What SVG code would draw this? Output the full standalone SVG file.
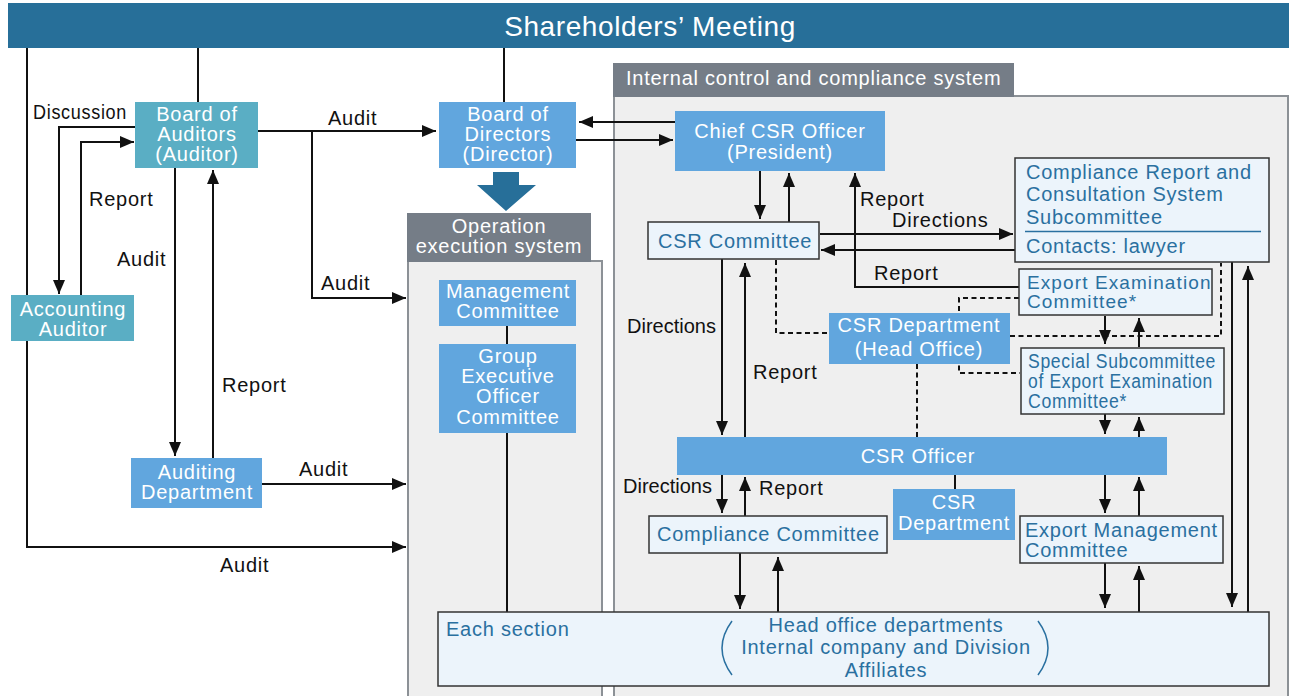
<svg xmlns="http://www.w3.org/2000/svg" width="1289" height="696" viewBox="0 0 1289 696">
<style>
text{font-family:"Liberation Sans",Arial,Helvetica,sans-serif;font-size:20px;letter-spacing:0.75px}
.lbl{fill:#111}
.wt{fill:#fff;text-anchor:middle}
.hd{fill:#fff}
.lt{fill:#2a70a0}
.teal{fill:#5aaec4}
.blue{fill:#61a6de}
.light{fill:#ecf4fb;stroke:#333;stroke-width:1.5}
.panel{fill:#efefef;stroke:#8c9196;stroke-width:2}
.tab{fill:#757d87}
.ln{fill:none;stroke:#111;stroke-width:2}
.arr{fill:none;stroke:#111;stroke-width:2;marker-end:url(#ah)}
.dash{fill:none;stroke:#111;stroke-width:2;stroke-dasharray:5 3.5}
.paren{fill:none;stroke:#2a70a0;stroke-width:1.5}
</style>
<defs>
<marker id="ah" viewBox="0 0 14 12" refX="14" refY="6" markerWidth="14" markerHeight="12" orient="auto" markerUnits="userSpaceOnUse">
<path d="M0,0 L14,6 L0,12 z" fill="#111"/>
</marker>
</defs>
<rect width="1289" height="696" fill="#fff"/>

<g id="banner">
<rect x="8" y="3" width="1281" height="45" fill="#276f99"/>
<text x="650" y="36" style="font-size:28px;letter-spacing:0.6px" fill="#fff" text-anchor="middle">Shareholders’ Meeting</text>
</g>

<g id="operation-panel">
<rect class="panel" x="408" y="261" width="194" height="445"/>
<rect class="tab" x="407" y="213" width="184" height="49"/>
<text class="wt" x="499" y="233">Operation</text>
<text class="wt" x="499" y="253">execution system</text>
</g>

<g id="internal-panel">
<rect class="panel" x="614" y="96" width="674" height="610"/>
<rect class="tab" x="613" y="63" width="401" height="34"/>
<text class="hd" x="626" y="85">Internal control and compliance system</text>
</g>

<g id="connectors">
<path class="ln" d="M198,48 V102"/>
<path class="ln" d="M504,48 V102"/>
<path class="arr" d="M27,48 V547 H406"/>
<path class="arr" d="M135,127 H59 V294"/>
<path class="arr" d="M81,295 V142 H134"/>
<path class="arr" d="M175,167 V456"/>
<path class="arr" d="M213,458 V170"/>
<path class="arr" d="M258,131 H436"/>
<path class="arr" d="M312,131 V298 H406"/>
<path class="arr" d="M262,484 H406"/>
<path class="arr" d="M675,122 H579"/>
<path class="arr" d="M576,140 H673"/>
<path d="M493,172 H519 V185 H536 L506,211 L477,185 H493 Z" fill="#276f99"/>
<path class="ln" d="M507,326 V344"/>
<path class="ln" d="M507,432 V612"/>
<path class="arr" d="M760,171 V219"/>
<path class="arr" d="M789,222 V173"/>
<path class="arr" d="M820,234 H1013"/>
<path class="arr" d="M1015,250 H821"/>
<path class="arr" d="M1019,287 H855 V173"/>
<path class="arr" d="M722,259 V435"/>
<path class="arr" d="M745,437 V263"/>
<path class="arr" d="M1105,316 V344"/>
<path class="arr" d="M1139,347 V318"/>
<path class="arr" d="M1105,414 V434"/>
<path class="arr" d="M1139,437 V417"/>
<path class="arr" d="M722,475 V513"/>
<path class="arr" d="M745,516 V477"/>
<path class="arr" d="M1105,475 V513"/>
<path class="arr" d="M1139,516 V477"/>
<path class="arr" d="M740,553 V609"/>
<path class="arr" d="M778,612 V557"/>
<path class="arr" d="M1105,563 V608"/>
<path class="arr" d="M1139,612 V566"/>
<path class="arr" d="M1232,262 V607"/>
<path class="arr" d="M1248,612 V266"/>
<path class="ln" d="M955,474 V489"/>
<path class="dash" d="M776,260 V333 H829"/>
<path class="dash" d="M1010,336 H1221 V263"/>
<path class="dash" d="M1019,298 H959 V373 H1020"/>
<path class="dash" d="M917,364 V437"/>
<text class="lbl" x="33" y="119" textLength="94" lengthAdjust="spacingAndGlyphs">Discussion</text>
<text class="lbl" x="89" y="206">Report</text>
<text class="lbl" x="117" y="266">Audit</text>
<text class="lbl" x="328" y="125">Audit</text>
<text class="lbl" x="321" y="290">Audit</text>
<text class="lbl" x="222" y="392">Report</text>
<text class="lbl" x="299" y="476">Audit</text>
<text class="lbl" x="220" y="572">Audit</text>
<text class="lbl" x="860" y="206">Report</text>
<text class="lbl" x="892" y="227">Directions</text>
<text class="lbl" x="874" y="280">Report</text>
<text class="lbl" x="627" y="333" style="letter-spacing:0">Directions</text>
<text class="lbl" x="753" y="379">Report</text>
<text class="lbl" x="623" y="493" style="letter-spacing:0">Directions</text>
<text class="lbl" x="759" y="495">Report</text>
</g>

<g id="board-of-auditors">
<rect class="teal" x="135" y="102" width="123" height="66"/>
<text class="wt" x="197" y="121">Board of</text>
<text class="wt" x="197" y="141">Auditors</text>
<text class="wt" x="197" y="161">(Auditor)</text>
</g>

<g id="accounting-auditor">
<rect class="teal" x="11" y="295" width="123" height="46"/>
<text class="wt" x="73" y="316">Accounting</text>
<text class="wt" x="73" y="336">Auditor</text>
</g>

<g id="auditing-department">
<rect class="blue" x="131" y="458" width="131" height="50"/>
<text class="wt" x="197" y="479">Auditing</text>
<text class="wt" x="197" y="499">Department</text>
</g>

<g id="board-of-directors">
<rect class="blue" x="439" y="102" width="137" height="66"/>
<text class="wt" x="508" y="121">Board of</text>
<text class="wt" x="508" y="141">Directors</text>
<text class="wt" x="508" y="161">(Director)</text>
</g>

<g id="management-committee">
<rect class="blue" x="439" y="280" width="137" height="46"/>
<text class="wt" x="508" y="298">Management</text>
<text class="wt" x="508" y="318">Committee</text>
</g>

<g id="group-executive-officer-committee">
<rect class="blue" x="439" y="344" width="137" height="89"/>
<text class="wt" x="508" y="363">Group</text>
<text class="wt" x="508" y="383">Executive</text>
<text class="wt" x="508" y="403">Officer</text>
<text class="wt" x="508" y="424">Committee</text>
</g>

<g id="chief-csr-officer">
<rect class="blue" x="675" y="111" width="210" height="60"/>
<text class="wt" x="780" y="138">Chief CSR Officer</text>
<text class="wt" x="780" y="159">(President)</text>
</g>

<g id="csr-committee">
<rect class="light" x="648" y="222" width="171" height="37"/>
<text class="lt" x="658" y="248">CSR Committee</text>
</g>

<g id="compliance-report-subcommittee">
<rect class="light" x="1015" y="158" width="254" height="104"/>
<text class="lt" x="1026" y="179">Compliance Report and</text>
<text class="lt" x="1026" y="201">Consultation System</text>
<text class="lt" x="1026" y="224">Subcommittee</text>
<line x1="1025" y1="231.5" x2="1261" y2="231.5" stroke="#2a70a0" stroke-width="1.5"/>
<text class="lt" x="1026" y="253">Contacts: lawyer</text>
</g>

<g id="export-examination-committee">
<rect class="light" x="1019" y="269" width="193" height="46"/>
<text class="lt" x="1027" y="289" style="font-size:19px;letter-spacing:1.1px">Export Examination</text>
<text class="lt" x="1027" y="308" style="font-size:19px;letter-spacing:1.1px">Committee*</text>
</g>

<g id="csr-department-head-office">
<rect class="blue" x="829" y="313" width="181" height="51"/>
<text class="wt" x="919" y="332">CSR Department</text>
<text class="wt" x="919" y="356">(Head Office)</text>
</g>

<g id="special-subcommittee">
<rect class="light" x="1021" y="348" width="203" height="66"/>
<text class="lt" x="1028" y="368" textLength="188" lengthAdjust="spacingAndGlyphs">Special Subcommittee</text>
<text class="lt" x="1028" y="388" textLength="185" lengthAdjust="spacingAndGlyphs">of Export Examination</text>
<text class="lt" x="1028" y="408" textLength="99" lengthAdjust="spacingAndGlyphs">Committee*</text>
</g>

<g id="csr-officer">
<rect class="blue" x="677" y="437" width="490" height="38"/>
<text class="wt" x="918" y="463">CSR Officer</text>
</g>

<g id="compliance-committee">
<rect class="light" x="649" y="516" width="238" height="37"/>
<text class="lt" x="657" y="541">Compliance Committee</text>
</g>

<g id="csr-department">
<rect class="blue" x="893" y="489" width="122" height="51"/>
<text class="wt" x="954" y="509">CSR</text>
<text class="wt" x="954" y="530">Department</text>
</g>

<g id="export-management-committee">
<rect class="light" x="1020" y="516" width="203" height="47"/>
<text class="lt" x="1025" y="537">Export Management</text>
<text class="lt" x="1025" y="557">Committee</text>
</g>

<g id="each-section">
<rect class="light" x="438" y="612" width="831" height="74"/>
<text class="lt" x="446" y="636">Each section</text>
<text class="lt" x="886" y="632" text-anchor="middle">Head office departments</text>
<text class="lt" x="886" y="654" text-anchor="middle">Internal company and Division</text>
<text class="lt" x="886" y="677" text-anchor="middle">Affiliates</text>
<path class="paren" d="M732,621 Q712,648 732,675"/>
<path class="paren" d="M1038,621 Q1058,648 1038,675"/>
</g>
</svg>
